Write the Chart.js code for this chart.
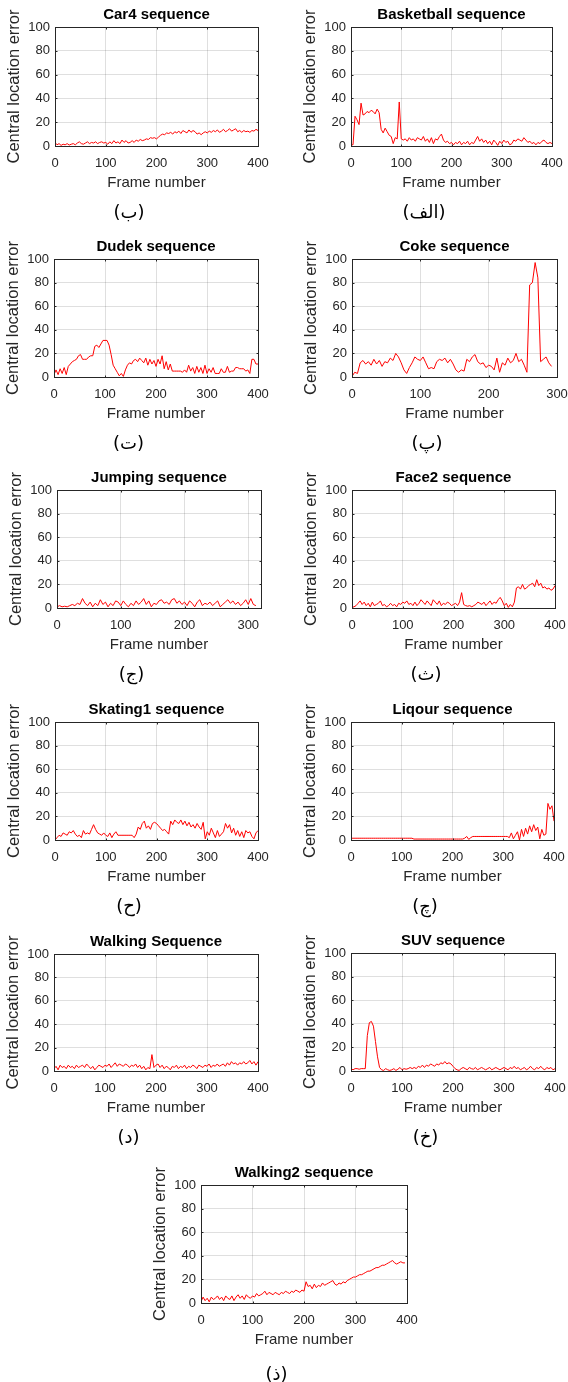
<!DOCTYPE html>
<html>
<head>
<meta charset="utf-8">
<script src="https://cdn.jsdelivr.net/npm/chart.js@4.4.1/dist/chart.umd.min.js"></script>
<style>
html, body { margin: 0; padding: 0; background: #fff; overflow: hidden; width: 568px; height: 1382px; }
canvas { position: absolute; }
</style>
</head>
<body>
<script>
// central location error per frame, one sample every FRAME_STEP frames
var FRAME_STEP = 4;

var car4Err = [
  3, 1, 2, 0.5, 1.5, 1, 2, 0.8, 1.5, 2,
  1, 2.5, 3.5, 2, 1.5, 2.5, 3.5, 2, 3, 2.5,
  3.5, 2, 3, 3.5, 2.5, 3, 1.5, 3.5, 2, 4.5,
  2.5, 3.5, 2, 5, 3, 4.5, 2.5, 3, 4.5, 3,
  5, 4, 5.5, 4.5, 5, 6, 5.5, 7, 6.5, 7,
  6, 7.5, 9, 10, 9.5, 11, 10.5, 11.5, 10, 12,
  11, 12.5, 10.5, 13, 12, 11, 13.5, 11.5, 13, 12,
  10, 11, 9.5, 11, 12, 11, 12.5, 11.5, 13, 12,
  13.5, 11.5, 12.5, 14, 12, 13, 14.5, 12.5, 13.5, 14.5,
  12, 13, 11.5, 13, 12, 12.5, 11.5, 13, 12.5, 14,
  13
];

var basketballErr = [
  1, 1, 25, 22, 18, 36, 26, 27, 29, 28,
  30, 29, 27, 31, 28, 14, 11, 15, 12, 9,
  8, 2, 7, 6, 37, 6, 5, 6, 4, 7,
  5, 6, 4, 7, 6, 5, 8, 4, 6, 3,
  7, 2, 6, 5, 8, 10, 5, 3, 4, 2,
  3, 1, 3, 2, 4, 1, 3, 2, 4, 1,
  3, 2, 5, 8, 4, 6, 3, 5, 2, 4,
  1, 5, 3, 0.5, 4, 2, 5, 3, 4, 1,
  2, 5, 4, 6, 5, 4, 7, 5, 3, 4,
  2, 3, 1, 3, 2, 4, 5, 3, 2, 3,
  2
];

var dudekErr = [
  2, 6, 2, 7, 3, 8, 2, 9, 11, 13,
  14, 15, 18, 19, 15, 15, 15, 17, 18, 18,
  26, 27, 25, 28, 31, 31, 31, 27, 19, 10,
  7, 4, 1, 3, 0.5, 6, 10, 12, 11, 14,
  15, 13, 16, 14, 12, 16, 10, 15, 11, 14,
  9, 15, 11, 18, 7, 13, 6, 11, 5, 5,
  5, 5, 5, 4, 6, 4, 10, 5, 8, 3,
  9, 4, 8, 3, 10, 3, 7, 4, 8, 3,
  3, 3, 7, 4, 4, 9, 4, 5, 5, 8,
  8, 7, 7, 7, 5, 6, 3, 15, 15, 11,
  11
];

var cokeErr = [
  0.5, 4, 3, 12, 14, 11, 13, 10, 15, 11,
  14, 9, 13, 12, 16, 14, 20, 17, 12, 6,
  3, 8, 12, 17, 15, 14, 17, 12, 7, 8,
  7, 13, 15, 14, 16, 12, 15, 11, 6, 4,
  6, 5, 15, 13, 17, 19, 13, 11, 12, 8,
  10, 9, 6, 16, 4, 12, 10, 16, 12, 14,
  20, 13, 15, 10, 4, 78, 80, 97, 84, 13,
  15, 17, 12, 9
];

var jumpingErr = [
  1, 2, 1, 1.5, 1, 2, 3, 2, 4, 3,
  8, 4, 2, 5, 1, 4, 2, 7, 3, 5,
  1, 4, 2, 6, 5, 2, 6, 3, 1, 4,
  2, 6, 3, 5, 8, 3, 6, 1, 4, 3,
  6, 7, 4, 5, 3, 7, 8, 4, 6, 3,
  5, 2, 6, 4, 1, 5, 7, 2, 4, 3,
  5, 2, 4, 6, 1, 3, 5, 7, 4, 6,
  3, 5, 2, 4, 7, 3, 8, 3, 2
];

var face2Err = [
  0.5, 1, 2, 4, 6, 3, 5, 2, 4, 1,
  5, 2, 3, 4, 6, 2, 3, 1, 2, 4,
  2, 3, 1, 4, 3, 5, 4, 6, 3, 4,
  2, 5, 2, 4, 7, 5, 3, 6, 4, 2,
  7, 5, 3, 6, 2, 4, 3, 5, 4, 2,
  3, 4, 2, 5, 13, 3, 2, 1.5, 2, 1,
  2, 3, 5, 4, 3, 5, 2, 4, 6, 3,
  5, 4, 7, 9, 6, 2, 4, 0.5, 3, 1,
  5, 17, 18, 16, 20, 16, 17, 19, 20, 21,
  18, 24, 19, 21, 17, 18, 16, 17, 15, 16,
  19
];

var skating1Err = [
  0, 2, 4, 3, 6, 5, 4, 7, 6, 8,
  5, 3, 4, 2, 8, 5, 6, 5, 9, 13,
  9, 6, 5, 4, 6, 4, 3, 6, 2, 5,
  7, 4, 4, 4, 4, 4, 4, 4, 4, 2,
  5, 11, 9, 14, 16, 10, 12, 9, 14, 15,
  14, 12, 10, 8, 9, 7, 5, 16, 13, 17,
  15, 14, 17, 13, 16, 12, 15, 11, 13, 10,
  14, 11, 9, 15, 1, 7, 4, 10, 6, 2,
  8, 3, 5, 7, 14, 10, 13, 6, 10, 4,
  8, 3, 7, 2, 8, 6, 7, 3, 1, 6,
  8
];

var liqourErr = [
  1.5, 1.5, 1.5, 1.5, 1.5, 1.5, 1.5, 1.5, 1.5, 1.5,
  1.5, 1.5, 1.5, 1.5, 1.5, 1.5, 1.5, 1.5, 1.5, 1.5,
  1.5, 1.5, 1.5, 1.5, 1.5, 1.5, 1.5, 1.5, 1.5, 1.5,
  1.5, 0.8, 0.8, 0.8, 0.8, 0.8, 0.8, 0.8, 0.8, 0.8,
  0.8, 0.8, 0.8, 0.8, 0.8, 0.8, 0.8, 0.8, 0.8, 0.8,
  0.8, 0.8, 0.8, 0.8, 0.8, 0.8, 1.5, 3, 0.5, 2,
  3, 3, 3, 3, 3, 3, 3, 3, 3, 3,
  3, 3, 3, 3, 3, 3, 3, 3, 2, 6,
  1, 4, 7, 0, 9, 3, 10, 5, 12, 7,
  13, 8, 11, 1, 9, 4, 5, 31, 26, 29,
  16
];

var walkingErr = [
  2, 4, 1, 5, 3, 4, 2, 5, 3, 4,
  2, 5, 3, 4, 5, 3, 6, 4, 2, 4,
  1, 3, 5, 4, 3, 5, 4, 6, 3, 5,
  7, 4, 6, 5, 4, 6, 5, 3, 5, 4,
  6, 3, 5, 2, 4, 1, 3, 2, 14, 3,
  5, 6, 3, 5, 2, 4, 3, 1, 4, 3,
  5, 2, 4, 3, 5, 2, 4, 3, 5, 4,
  2, 5, 4, 3, 5, 4, 6, 3, 5, 4,
  6, 4, 5, 6, 4, 7, 5, 8, 6, 7,
  5, 7, 6, 8, 6, 7, 9, 6, 8, 5,
  8
];

var suvErr = [
  2, 1, 2, 2, 1.5, 2, 2, 2, 30, 41,
  42, 38, 25, 12, 3, 1, 0.5, 2, 1, 0.5,
  1, 2, 0.5, 1.5, 3, 1, 2, 1.5, 2, 3,
  2, 3, 2, 4, 3, 5, 3, 5, 4, 6,
  5, 4, 6, 5, 7, 6, 8, 6, 7, 6,
  4, 2, 1, 0.5, 2, 3, 2, 1, 3, 2,
  1.5, 3, 1, 2, 3, 2, 1, 2, 3, 1,
  2, 3, 2, 1, 2, 3, 2, 1, 3, 2,
  4, 2, 3, 1, 2, 3, 1, 2, 4, 2,
  1, 3, 2, 4, 2, 1, 3, 2, 3, 1,
  2
];

var walking2Err = [
  1, 5, 2, 4, 1, 5, 3, 4, 6, 3,
  5, 2, 6, 4, 3, 6, 2, 5, 7, 4,
  6, 3, 7, 5, 4, 6, 5, 8, 6, 7,
  8, 10, 7, 9, 8, 7, 9, 8, 7, 9,
  8, 10, 9, 8, 10, 9, 11, 10, 9, 11,
  10, 18, 14, 15, 12, 16, 13, 15, 14, 17,
  15, 16, 17, 18, 19, 16, 15, 17, 16, 18,
  17, 19, 20, 21, 22, 22, 23, 24, 24, 25,
  26, 27, 27, 28, 29, 30, 30, 31, 32, 32,
  33, 34, 35, 36, 34, 33, 34, 35, 34, 34
];

var yTicks = [0, 20, 40, 60, 80, 100];
var X_TICK_STEP = 100;

// panel placement: plot box [left, top, width, height], centre of the letter tag,
// and an optional extra gap above the tag
var panels = [
  { title: 'Car4 sequence',       tag: '(ب)',   values: car4Err,       xMax: 400, box: [55, 27, 203, 119],   tagX: 140 },
  { title: 'Basketball sequence', tag: '(الف)', values: basketballErr, xMax: 400, box: [351, 27, 201, 119],  tagX: 434 },
  { title: 'Dudek sequence',      tag: '(ت)',   values: dudekErr,      xMax: 400, box: [54, 259, 204, 118],  tagX: 140 },
  { title: 'Coke sequence',       tag: '(پ)',   values: cokeErr,       xMax: 300, box: [352, 259, 205, 118], tagX: 434 },
  { title: 'Jumping sequence',    tag: '(ج)',   values: jumpingErr,    xMax: 320, box: [57, 490, 204, 118],  tagX: 140 },
  { title: 'Face2 sequence',      tag: '(ث)',   values: face2Err,      xMax: 400, box: [352, 490, 203, 118], tagX: 434 },
  { title: 'Skating1 sequence',   tag: '(ح)',   values: skating1Err,   xMax: 400, box: [55, 722, 203, 118],  tagX: 140 },
  { title: 'Liqour sequence',     tag: '(چ)',   values: liqourErr,     xMax: 400, box: [351, 722, 203, 118], tagX: 434 },
  { title: 'Walking Sequence',    tag: '(د)',   values: walkingErr,    xMax: 400, box: [54, 954, 204, 117],  tagX: 140 },
  { title: 'SUV sequence',        tag: '(خ)',   values: suvErr,        xMax: 400, box: [351, 953, 204, 118], tagX: 434 },
  { title: 'Walking2 sequence',   tag: '(ذ)',   values: walking2Err,   xMax: 400, box: [201, 1185, 206, 118], tagX: 285, tagGap: 5 }
];

var Y_AXIS_W = 55, TITLE_H = 27, X_AXIS_H = 46, TAG_H = 33, RIGHT_PAD = 30;
var FONT = '"Liberation Sans", Arial, Helvetica, sans-serif';
var INK = '#262626';
var GRID = 'rgba(38,38,38,0.15)';

Chart.defaults.font.family = FONT;
Chart.defaults.color = INK;

// matlab style box around the axes with small inward tick marks
var axesBox = {
  id: 'axesBox',
  afterDatasetsDraw: function (chart) {
    var a = chart.chartArea, ctx = chart.ctx;
    var l = Math.round(a.left) + 0.5, r = Math.round(a.right) + 0.5;
    var t = Math.round(a.top) + 0.5, b = Math.round(a.bottom) + 0.5;
    ctx.save();
    ctx.strokeStyle = INK;
    ctx.lineWidth = 1;
    ctx.beginPath();
    chart.scales.x.ticks.forEach(function (tk) {
      var px = Math.round(chart.scales.x.getPixelForValue(tk.value)) + 0.5;
      ctx.moveTo(px, b); ctx.lineTo(px, b - 2);
      ctx.moveTo(px, t); ctx.lineTo(px, t + 2);
    });
    chart.scales.y.ticks.forEach(function (tk) {
      var py = Math.round(chart.scales.y.getPixelForValue(tk.value)) + 0.5;
      ctx.moveTo(l, py); ctx.lineTo(l + 2, py);
      ctx.moveTo(r, py); ctx.lineTo(r - 2, py);
    });
    ctx.stroke();
    ctx.strokeRect(l, t, r - l, b - t);
    ctx.restore();
  }
};

function drawPanel(p) {
  var w = p.box[2];
  var gap = p.tagGap || 0;
  // extra room on the left so the canvas centre (where the tag sits) lands on tagX
  var extra = Math.max(0, 2 * (p.box[0] - Y_AXIS_W / 2 + w / 2 + RIGHT_PAD / 2 - p.tagX));
  var left = p.box[0] - Y_AXIS_W - extra;
  var top = p.box[1] - TITLE_H;
  var width = extra + Y_AXIS_W + w + RIGHT_PAD;
  var height = TITLE_H + p.box[3] + X_AXIS_H + TAG_H + gap;

  var cv = document.createElement('canvas');
  cv.width = width;
  cv.height = height;
  cv.style.left = left + 'px';
  cv.style.top = top + 'px';
  cv.style.width = width + 'px';
  cv.style.height = height + 'px';
  document.body.appendChild(cv);

  var pts = p.values.map(function (v, i) { return { x: i * FRAME_STEP, y: v }; });
  var xTicks = [];
  for (var v = 0; v <= p.xMax; v += X_TICK_STEP) xTicks.push({ value: v });

  new Chart(cv.getContext('2d'), {
    type: 'line',
    data: {
      datasets: [{
        data: pts,
        borderColor: '#ff0000',
        borderWidth: 1,
        pointRadius: 0,
        tension: 0,
        fill: false
      }]
    },
    options: {
      responsive: false,
      animation: false,
      devicePixelRatio: 1,
      layout: { padding: { left: extra, top: 0, bottom: 0, right: RIGHT_PAD } },
      plugins: {
        legend: { display: false },
        tooltip: { enabled: false },
        title: {
          display: true,
          text: p.title,
          fullSize: false,
          color: '#000',
          padding: { top: 6, bottom: 3 },
          font: { family: FONT, size: 15, weight: 'bold', lineHeight: 1.2 }
        },
        subtitle: {
          display: true,
          position: 'bottom',
          text: p.tag,
          fullSize: true,
          color: '#000',
          padding: { top: 10.2 + gap, bottom: 1.2 },
          font: { family: '"DejaVu Sans", sans-serif', size: 18, lineHeight: 1.2 }
        }
      },
      scales: {
        x: {
          type: 'linear',
          min: 0,
          max: p.xMax,
          afterBuildTicks: function (s) { s.ticks = xTicks.slice(); },
          afterFit: function (s) { s.height = X_AXIS_H; },
          ticks: { padding: 10, color: INK, font: { size: 13, lineHeight: 1.2 }, maxRotation: 0, autoSkip: false },
          grid: { color: GRID, drawTicks: false },
          border: { display: false },
          title: {
            display: true,
            text: 'Frame number',
            color: INK,
            padding: { top: 0, bottom: 0 },
            font: { size: 15, lineHeight: 1.2 }
          }
        },
        y: {
          type: 'linear',
          min: 0,
          max: 100,
          afterBuildTicks: function (s) {
            s.ticks = yTicks.map(function (v) { return { value: v }; });
          },
          afterFit: function (s) { s.width = Y_AXIS_W; },
          ticks: { padding: 5, color: INK, font: { size: 13, lineHeight: 1.2 } },
          grid: { color: GRID, drawTicks: false },
          border: { display: false },
          title: {
            display: true,
            text: 'Central location error',
            color: INK,
            padding: { top: 5, bottom: 0 },
            font: { size: 16.5, lineHeight: 1.2 }
          }
        }
      }
    },
    plugins: [axesBox]
  });
}

panels.forEach(drawPanel);
</script>
</body>
</html>
